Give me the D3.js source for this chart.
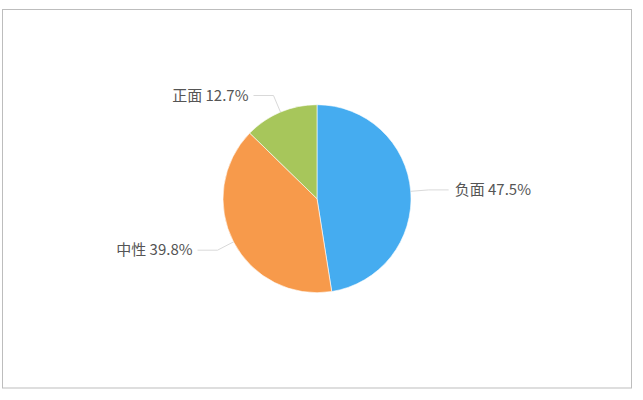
<!DOCTYPE html>
<html><head><meta charset="utf-8">
<script src="https://cdn.jsdelivr.net/npm/d3@7"></script>
<style>html,body{margin:0;padding:0;background:#fff;}svg{display:block;}</style>
</head><body>
<svg id="c" width="643" height="400"></svg>
<script>
const categories = ["负面", "中性", "正面"];
const values = [47.5, 39.8, 12.7];
const colors = ["#45acf0", "#f79a4b", "#a7c65b"];

const svg = d3.select("#c");
svg.append("rect").attr("x", 2.5).attr("y", 9.5).attr("width", 629).attr("height", 378.5)
  .attr("fill", "none").attr("stroke", "#bdbdbd").attr("stroke-width", 1);

const cx = 317, cy = 198.7, r = 94;
const g = svg.append("g").attr("transform", `translate(${cx},${cy})`);
const data = categories.map((c, i) => ({ name: c, value: values[i], color: colors[i] }));
const pie = d3.pie().value(d => d.value).sort(null);
const arcs = pie(data);
const arc = d3.arc().innerRadius(0).outerRadius(r);

g.selectAll("path.slice").data(arcs).enter().append("path")
  .attr("d", arc).attr("fill", d => d.data.color)
  .attr("stroke", "#fff").attr("stroke-width", 0.6);

const len1 = 18, len2 = 20;
arcs.forEach(a => {
  const mid = (a.startAngle + a.endAngle) / 2;
  const sx = Math.sin(mid), sy = -Math.cos(mid);
  const p0 = [sx * r, sy * r];
  const p1 = [sx * (r + len1), sy * (r + len1)];
  const right = sx >= 0;
  const p2 = [p1[0] + (right ? len2 : -len2), p1[1]];
  g.append("polyline").attr("points", [p0, p1, p2].map(p => p.join(",")).join(" "))
    .attr("fill", "none").attr("stroke", "#d9d9d9").attr("stroke-width", 1);
  g.append("text").attr("x", p2[0] + (right ? 6 : -5)).attr("y", p2[1])
    .attr("dy", "0.35em").attr("text-anchor", right ? "start" : "end")
    .attr("font-family", "'Noto Sans CJK SC', 'Noto Sans', sans-serif")
    .attr("font-size", 15).attr("fill", "#555")
    .text(`${a.data.name} ${d3.format(".1f")(a.data.value)}%`);
});
</script>
</body></html>
